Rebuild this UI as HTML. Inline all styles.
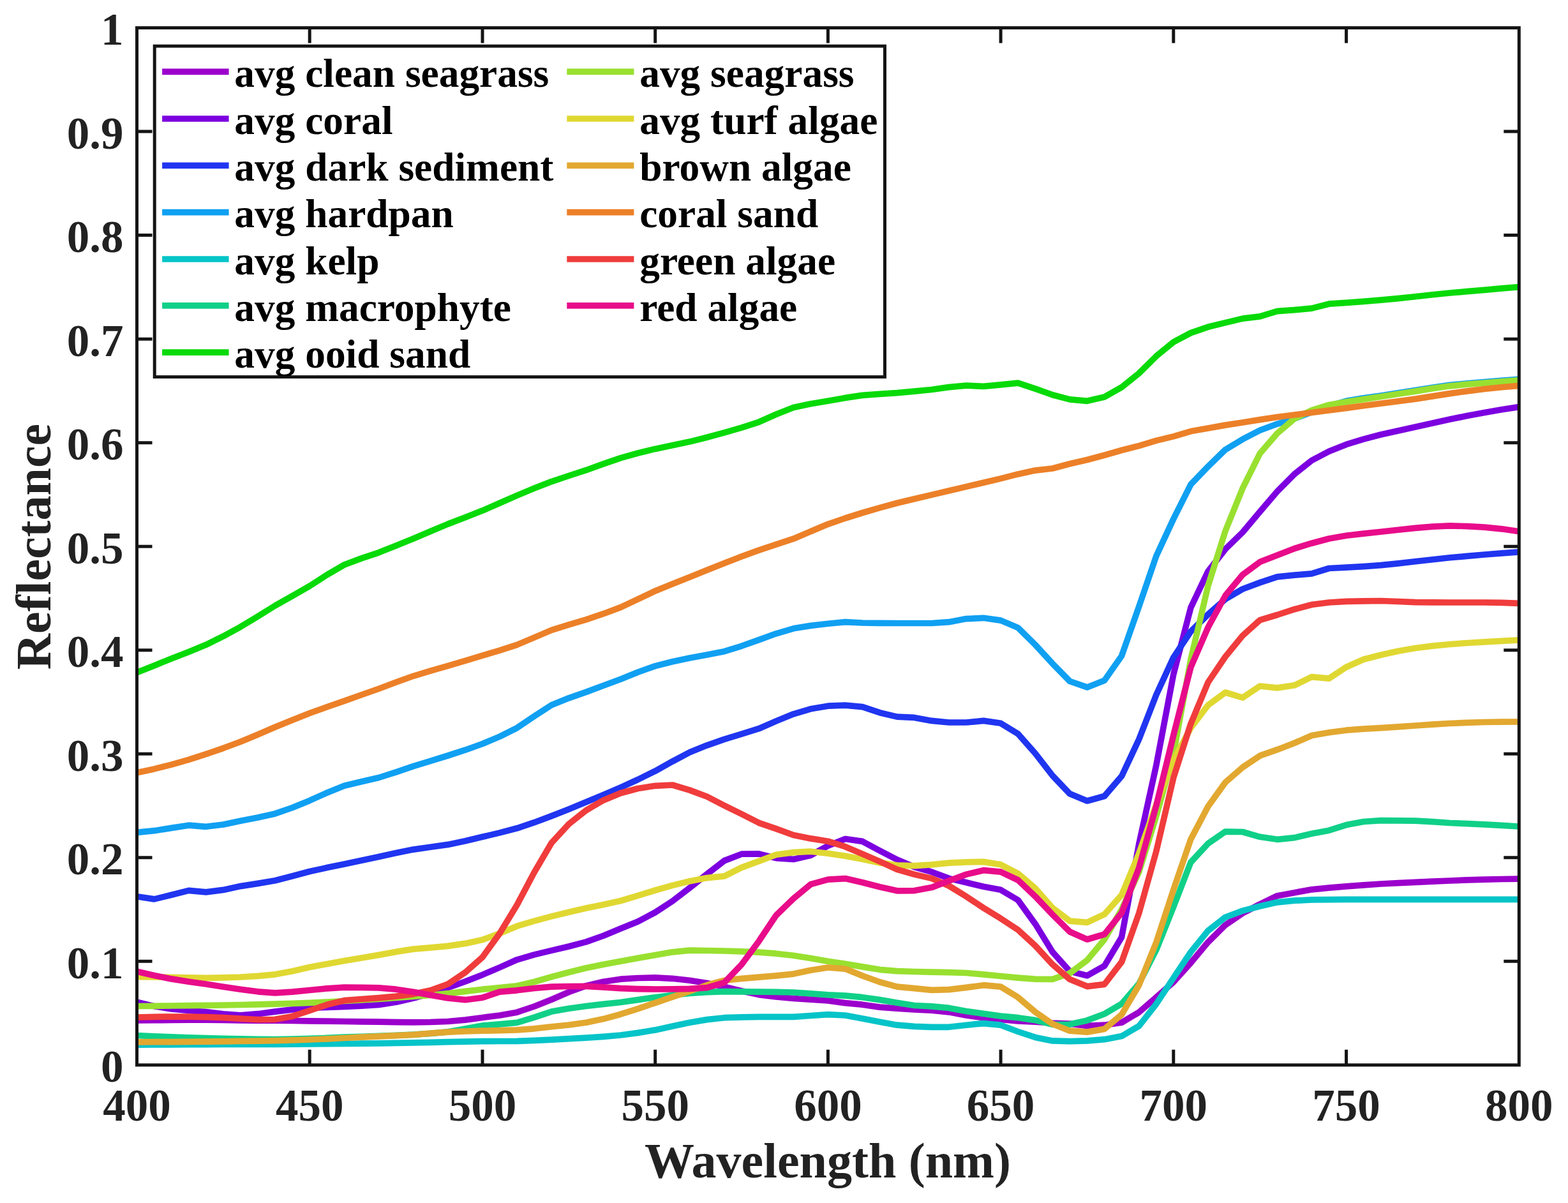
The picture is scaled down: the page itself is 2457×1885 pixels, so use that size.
<!DOCTYPE html>
<html><head><meta charset="utf-8"><title>Reflectance spectra</title>
<style>html,body{margin:0;padding:0;background:#fff;}svg{display:block;}</style>
</head><body>
<svg width="2457" height="1885" viewBox="0 0 2457 1885">
<rect x="0" y="0" width="2457" height="1885" fill="#ffffff"/>
<g fill="none" stroke-width="9.70" stroke-linejoin="round" stroke-linecap="butt">
<polyline stroke="#9b00cc" points="214.5,1598.9 241.6,1598.7 268.6,1598.4 295.7,1598.2 322.8,1598.1 349.9,1598.5 376.9,1598.9 404.0,1599.1 431.1,1599.2 458.2,1599.5 485.2,1599.9 512.3,1600.2 539.4,1600.5 566.4,1600.9 593.5,1601.2 620.6,1601.6 647.7,1601.8 674.7,1601.5 701.8,1600.5 728.9,1598.1 756.0,1594.5 783.0,1591.0 810.1,1586.2 837.2,1577.0 864.2,1566.2 891.3,1554.5 918.4,1544.6 945.5,1538.2 972.5,1534.2 999.6,1532.5 1026.7,1531.8 1053.7,1533.3 1080.8,1536.3 1107.9,1540.6 1135.0,1546.1 1162.0,1552.7 1189.1,1558.6 1216.2,1562.0 1243.3,1564.5 1270.3,1566.2 1297.4,1568.0 1324.5,1571.6 1351.5,1574.2 1378.6,1578.1 1405.7,1580.2 1432.8,1582.0 1459.8,1583.2 1486.9,1585.8 1514.0,1591.0 1541.1,1594.7 1568.1,1597.3 1595.2,1599.9 1622.3,1601.2 1649.3,1603.0 1676.4,1604.1 1703.5,1607.4 1730.6,1606.2 1757.6,1602.2 1784.7,1586.2 1811.8,1562.7 1838.8,1538.8 1865.9,1508.7 1893.0,1476.2 1920.1,1449.4 1947.1,1431.0 1974.2,1416.9 2001.3,1403.7 2028.4,1398.7 2055.4,1393.8 2082.5,1391.2 2109.6,1388.8 2136.6,1386.8 2163.7,1385.0 2190.8,1383.7 2217.9,1382.4 2244.9,1381.2 2272.0,1380.0 2299.1,1378.9 2326.2,1378.1 2353.2,1377.5 2380.3,1377.1"/>
<polyline stroke="#7c00e0" points="214.5,1570.3 241.6,1576.6 268.6,1581.0 295.7,1583.5 322.8,1585.6 349.9,1588.8 376.9,1590.8 404.0,1588.7 431.1,1585.1 458.2,1581.9 485.2,1579.4 512.3,1578.4 539.4,1577.5 566.4,1576.2 593.5,1574.4 620.6,1570.2 647.7,1564.0 674.7,1556.5 701.8,1547.7 728.9,1538.0 756.0,1527.4 783.0,1515.9 810.1,1503.8 837.2,1495.9 864.2,1489.4 891.3,1483.0 918.4,1475.9 945.5,1466.3 972.5,1455.1 999.6,1444.0 1026.7,1429.6 1053.7,1412.0 1080.8,1391.2 1107.9,1369.6 1135.0,1348.6 1162.0,1338.2 1189.1,1337.9 1216.2,1344.6 1243.3,1346.4 1270.3,1340.2 1297.4,1325.2 1324.5,1314.5 1351.5,1318.4 1378.6,1333.0 1405.7,1347.0 1432.8,1358.5 1459.8,1366.2 1486.9,1376.4 1514.0,1382.8 1541.1,1389.3 1568.1,1394.3 1595.2,1410.4 1622.3,1447.8 1649.3,1491.7 1676.4,1522.0 1703.5,1528.7 1730.6,1513.6 1757.6,1468.4 1784.7,1322.6 1811.8,1199.1 1838.8,1056.7 1865.9,952.1 1893.0,895.2 1920.1,860.4 1947.1,834.1 1974.2,801.8 2001.3,770.1 2028.4,742.9 2055.4,721.5 2082.5,707.2 2109.6,696.4 2136.6,688.1 2163.7,681.0 2190.8,674.9 2217.9,669.1 2244.9,663.1 2272.0,657.1 2299.1,651.5 2326.2,646.4 2353.2,641.8 2380.3,637.6"/>
<polyline stroke="#2035f0" points="214.5,1404.7 241.6,1408.9 268.6,1402.3 295.7,1395.4 322.8,1397.9 349.9,1394.4 376.9,1388.6 404.0,1384.4 431.1,1379.7 458.2,1372.8 485.2,1365.5 512.3,1359.6 539.4,1354.0 566.4,1348.3 593.5,1342.6 620.6,1336.6 647.7,1331.1 674.7,1327.3 701.8,1323.4 728.9,1317.8 756.0,1311.3 783.0,1304.9 810.1,1297.8 837.2,1288.7 864.2,1278.6 891.3,1267.9 918.4,1256.8 945.5,1245.6 972.5,1233.9 999.6,1221.5 1026.7,1208.2 1053.7,1193.1 1080.8,1178.8 1107.9,1167.8 1135.0,1158.3 1162.0,1150.2 1189.1,1141.7 1216.2,1129.9 1243.3,1118.8 1270.3,1110.8 1297.4,1106.2 1324.5,1105.2 1351.5,1107.6 1378.6,1116.7 1405.7,1123.1 1432.8,1124.4 1459.8,1129.4 1486.9,1132.0 1514.0,1132.0 1541.1,1129.4 1568.1,1133.3 1595.2,1149.9 1622.3,1180.6 1649.3,1215.4 1676.4,1243.8 1703.5,1255.0 1730.6,1247.5 1757.6,1216.2 1784.7,1158.5 1811.8,1088.8 1838.8,1030.1 1865.9,989.5 1893.0,962.7 1920.1,938.8 1947.1,923.0 1974.2,912.9 2001.3,903.8 2028.4,901.2 2055.4,898.8 2082.5,890.5 2109.6,889.2 2136.6,887.6 2163.7,885.6 2190.8,882.9 2217.9,879.8 2244.9,876.7 2272.0,873.8 2299.1,871.3 2326.2,869.0 2353.2,866.9 2380.3,864.8"/>
<polyline stroke="#10a0f2" points="214.5,1304.3 241.6,1301.7 268.6,1297.4 295.7,1293.2 322.8,1295.3 349.9,1292.0 376.9,1286.2 404.0,1281.1 431.1,1274.9 458.2,1265.5 485.2,1254.4 512.3,1242.2 539.4,1231.3 566.4,1224.7 593.5,1218.5 620.6,1209.8 647.7,1200.6 674.7,1192.3 701.8,1184.0 728.9,1175.2 756.0,1165.5 783.0,1154.1 810.1,1140.6 837.2,1122.2 864.2,1104.7 891.3,1093.8 918.4,1084.4 945.5,1074.3 972.5,1064.2 999.6,1053.3 1026.7,1043.6 1053.7,1036.7 1080.8,1030.9 1107.9,1026.0 1135.0,1020.7 1162.0,1012.3 1189.1,1002.6 1216.2,992.8 1243.3,984.8 1270.3,980.4 1297.4,977.3 1324.5,974.7 1351.5,976.0 1378.6,976.3 1405.7,976.5 1432.8,976.5 1459.8,976.5 1486.9,974.7 1514.0,969.6 1541.1,968.3 1568.1,972.1 1595.2,983.6 1622.3,1010.4 1649.3,1039.8 1676.4,1067.5 1703.5,1076.9 1730.6,1066.2 1757.6,1027.7 1784.7,950.5 1811.8,871.3 1838.8,813.1 1865.9,759.2 1893.0,730.9 1920.1,704.6 1947.1,688.3 1974.2,674.2 2001.3,664.3 2028.4,656.0 2055.4,645.7 2082.5,636.1 2109.6,628.3 2136.6,623.8 2163.7,620.1 2190.8,615.8 2217.9,611.6 2244.9,607.2 2272.0,603.3 2299.1,600.8 2326.2,598.6 2353.2,596.4 2380.3,594.4"/>
<polyline stroke="#05c4c8" points="214.5,1637.1 241.6,1637.0 268.6,1636.8 295.7,1636.7 322.8,1636.6 349.9,1636.5 376.9,1636.5 404.0,1636.4 431.1,1636.3 458.2,1636.2 485.2,1636.0 512.3,1635.7 539.4,1635.5 566.4,1635.2 593.5,1634.8 620.6,1634.3 647.7,1633.9 674.7,1633.3 701.8,1632.7 728.9,1632.2 756.0,1631.7 783.0,1631.5 810.1,1631.3 837.2,1630.4 864.2,1629.1 891.3,1627.7 918.4,1626.1 945.5,1624.3 972.5,1622.0 999.6,1618.4 1026.7,1613.9 1053.7,1608.1 1080.8,1602.3 1107.9,1597.6 1135.0,1594.7 1162.0,1593.8 1189.1,1593.4 1216.2,1593.4 1243.3,1593.4 1270.3,1591.5 1297.4,1589.7 1324.5,1591.0 1351.5,1596.0 1378.6,1601.2 1405.7,1606.2 1432.8,1608.3 1459.8,1609.3 1486.9,1609.3 1514.0,1606.2 1541.1,1603.6 1568.1,1606.2 1595.2,1616.5 1622.3,1625.4 1649.3,1630.9 1676.4,1631.7 1703.5,1630.9 1730.6,1628.7 1757.6,1623.6 1784.7,1607.7 1811.8,1573.2 1838.8,1532.3 1865.9,1491.7 1893.0,1458.3 1920.1,1437.2 1947.1,1427.1 1974.2,1420.0 2001.3,1413.8 2028.4,1411.2 2055.4,1409.9 2082.5,1409.6 2109.6,1409.4 2136.6,1409.4 2163.7,1409.4 2190.8,1409.4 2217.9,1409.4 2244.9,1409.4 2272.0,1409.4 2299.1,1409.4 2326.2,1409.4 2353.2,1409.4 2380.3,1409.4"/>
<polyline stroke="#10d088" points="214.5,1622.5 241.6,1623.8 268.6,1624.9 295.7,1625.8 322.8,1626.5 349.9,1627.3 376.9,1627.8 404.0,1628.3 431.1,1628.5 458.2,1628.1 485.2,1627.4 512.3,1626.4 539.4,1625.2 566.4,1624.3 593.5,1623.3 620.6,1622.3 647.7,1621.2 674.7,1619.4 701.8,1616.8 728.9,1612.0 756.0,1607.0 783.0,1604.8 810.1,1602.3 837.2,1594.2 864.2,1585.1 891.3,1580.2 918.4,1576.5 945.5,1573.4 972.5,1570.5 999.6,1566.6 1026.7,1562.7 1053.7,1559.2 1080.8,1556.5 1107.9,1554.6 1135.0,1553.7 1162.0,1553.8 1189.1,1554.1 1216.2,1554.4 1243.3,1555.0 1270.3,1556.8 1297.4,1558.9 1324.5,1560.2 1351.5,1562.7 1378.6,1566.6 1405.7,1571.3 1432.8,1575.5 1459.8,1576.8 1486.9,1579.4 1514.0,1584.5 1541.1,1588.4 1568.1,1592.1 1595.2,1594.7 1622.3,1598.6 1649.3,1605.4 1676.4,1605.1 1703.5,1598.9 1730.6,1588.7 1757.6,1572.9 1784.7,1541.4 1811.8,1488.4 1838.8,1421.0 1865.9,1351.1 1893.0,1321.8 1920.1,1303.1 1947.1,1303.5 1974.2,1311.3 2001.3,1315.3 2028.4,1312.6 2055.4,1306.2 2082.5,1301.2 2109.6,1292.6 2136.6,1287.5 2163.7,1285.6 2190.8,1285.8 2217.9,1286.2 2244.9,1287.6 2272.0,1289.5 2299.1,1290.7 2326.2,1291.9 2353.2,1293.4 2380.3,1295.0"/>
<polyline stroke="#08da08" points="214.5,1053.8 241.6,1042.9 268.6,1032.0 295.7,1021.5 322.8,1010.3 349.9,996.9 376.9,982.2 404.0,965.8 431.1,949.0 458.2,933.7 485.2,918.3 512.3,900.7 539.4,885.0 566.4,874.9 593.5,865.8 620.6,855.1 647.7,844.0 674.7,832.5 701.8,821.1 728.9,810.7 756.0,800.1 783.0,788.3 810.1,776.4 837.2,765.1 864.2,754.6 891.3,745.5 918.4,736.7 945.5,726.9 972.5,717.6 999.6,710.0 1026.7,703.4 1053.7,697.7 1080.8,692.1 1107.9,685.3 1135.0,677.9 1162.0,670.1 1189.1,661.3 1216.2,649.2 1243.3,638.4 1270.3,632.8 1297.4,628.3 1324.5,623.4 1351.5,619.4 1378.6,617.4 1405.7,615.7 1432.8,613.2 1459.8,610.5 1486.9,606.6 1514.0,604.1 1541.1,605.4 1568.1,602.8 1595.2,600.2 1622.3,609.2 1649.3,618.8 1676.4,625.9 1703.5,628.3 1730.6,622.0 1757.6,606.7 1784.7,585.0 1811.8,558.1 1838.8,536.0 1865.9,521.6 1893.0,512.3 1920.1,505.6 1947.1,499.1 1974.2,495.9 2001.3,487.6 2028.4,485.7 2055.4,483.1 2082.5,476.2 2109.6,474.3 2136.6,472.3 2163.7,470.2 2190.8,467.6 2217.9,464.7 2244.9,461.8 2272.0,459.0 2299.1,456.6 2326.2,454.3 2353.2,451.9 2380.3,449.6"/>
<polyline stroke="#99e030" points="214.5,1576.5 241.6,1576.3 268.6,1576.0 295.7,1575.7 322.8,1575.4 349.9,1575.0 376.9,1574.5 404.0,1573.9 431.1,1573.1 458.2,1572.3 485.2,1571.3 512.3,1570.0 539.4,1568.5 566.4,1567.0 593.5,1565.3 620.6,1563.5 647.7,1561.5 674.7,1559.3 701.8,1556.7 728.9,1553.4 756.0,1550.2 783.0,1547.7 810.1,1544.8 837.2,1538.5 864.2,1530.7 891.3,1523.5 918.4,1516.8 945.5,1511.3 972.5,1506.3 999.6,1501.2 1026.7,1496.5 1053.7,1491.8 1080.8,1489.2 1107.9,1489.5 1135.0,1490.0 1162.0,1490.9 1189.1,1492.1 1216.2,1494.2 1243.3,1497.2 1270.3,1501.5 1297.4,1506.3 1324.5,1510.3 1351.5,1514.9 1378.6,1519.3 1405.7,1521.6 1432.8,1522.5 1459.8,1523.2 1486.9,1523.7 1514.0,1524.5 1541.1,1526.9 1568.1,1529.5 1595.2,1532.1 1622.3,1534.1 1649.3,1534.4 1676.4,1525.0 1703.5,1504.7 1730.6,1472.2 1757.6,1425.0 1784.7,1366.4 1811.8,1278.8 1838.8,1181.2 1865.9,1033.3 1893.0,918.0 1920.1,832.0 1947.1,765.2 1974.2,710.6 2001.3,679.1 2028.4,656.0 2055.4,642.8 2082.5,634.5 2109.6,629.8 2136.6,625.6 2163.7,621.5 2190.8,617.3 2217.9,613.1 2244.9,608.6 2272.0,604.8 2299.1,602.2 2326.2,600.1 2353.2,597.9 2380.3,595.8"/>
<polyline stroke="#e0d832" points="214.5,1530.7 241.6,1530.9 268.6,1531.3 295.7,1531.9 322.8,1532.3 349.9,1531.9 376.9,1531.0 404.0,1529.4 431.1,1526.8 458.2,1521.7 485.2,1515.5 512.3,1510.5 539.4,1505.6 566.4,1501.0 593.5,1496.4 620.6,1491.4 647.7,1487.1 674.7,1484.8 701.8,1482.4 728.9,1478.4 756.0,1472.6 783.0,1462.5 810.1,1451.2 837.2,1443.1 864.2,1435.9 891.3,1429.3 918.4,1423.1 945.5,1417.5 972.5,1411.5 999.6,1403.4 1026.7,1395.0 1053.7,1387.4 1080.8,1380.8 1107.9,1375.6 1135.0,1372.9 1162.0,1359.4 1189.1,1349.4 1216.2,1339.2 1243.3,1335.6 1270.3,1334.2 1297.4,1337.3 1324.5,1341.2 1351.5,1346.2 1378.6,1351.9 1405.7,1355.8 1432.8,1356.6 1459.8,1354.8 1486.9,1352.2 1514.0,1350.9 1541.1,1350.4 1568.1,1354.8 1595.2,1368.8 1622.3,1391.9 1649.3,1422.6 1676.4,1443.1 1703.5,1445.3 1730.6,1432.7 1757.6,1402.3 1784.7,1337.3 1811.8,1260.7 1838.8,1191.0 1865.9,1140.6 1893.0,1104.9 1920.1,1085.0 1947.1,1093.2 1974.2,1075.0 2001.3,1077.9 2028.4,1073.8 2055.4,1060.7 2082.5,1063.1 2109.6,1045.2 2136.6,1033.3 2163.7,1026.2 2190.8,1020.2 2217.9,1015.5 2244.9,1012.1 2272.0,1009.5 2299.1,1007.5 2326.2,1005.9 2353.2,1004.3 2380.3,1002.8"/>
<polyline stroke="#e2a830" points="214.5,1632.9 241.6,1632.7 268.6,1632.6 295.7,1632.3 322.8,1632.1 349.9,1631.8 376.9,1631.4 404.0,1631.1 431.1,1630.6 458.2,1629.9 485.2,1629.0 512.3,1627.8 539.4,1626.5 566.4,1625.2 593.5,1623.8 620.6,1622.6 647.7,1621.3 674.7,1619.2 701.8,1617.1 728.9,1616.0 756.0,1615.2 783.0,1614.6 810.1,1613.9 837.2,1611.8 864.2,1608.8 891.3,1606.0 918.4,1602.3 945.5,1596.6 972.5,1589.2 999.6,1580.6 1026.7,1571.3 1053.7,1562.1 1080.8,1553.1 1107.9,1543.5 1135.0,1536.3 1162.0,1533.4 1189.1,1531.1 1216.2,1528.9 1243.3,1526.1 1270.3,1520.3 1297.4,1516.0 1324.5,1518.1 1351.5,1529.0 1378.6,1538.8 1405.7,1546.1 1432.8,1548.7 1459.8,1551.3 1486.9,1550.6 1514.0,1547.4 1541.1,1543.7 1568.1,1546.1 1595.2,1562.7 1622.3,1585.8 1649.3,1604.6 1676.4,1615.2 1703.5,1617.1 1730.6,1612.4 1757.6,1589.7 1784.7,1543.7 1811.8,1476.5 1838.8,1394.1 1865.9,1315.0 1893.0,1263.6 1920.1,1225.8 1947.1,1202.4 1974.2,1184.2 2001.3,1174.7 2028.4,1164.3 2055.4,1152.5 2082.5,1147.8 2109.6,1144.2 2136.6,1142.2 2163.7,1140.6 2190.8,1138.8 2217.9,1137.0 2244.9,1135.1 2272.0,1133.5 2299.1,1132.3 2326.2,1131.5 2353.2,1131.2 2380.3,1131.0"/>
<polyline stroke="#ec8028" points="214.5,1210.8 241.6,1204.9 268.6,1198.1 295.7,1190.3 322.8,1181.6 349.9,1172.3 376.9,1162.2 404.0,1150.9 431.1,1139.3 458.2,1128.2 485.2,1117.5 512.3,1107.8 539.4,1098.4 566.4,1088.8 593.5,1079.2 620.6,1069.0 647.7,1059.3 674.7,1051.1 701.8,1043.3 728.9,1035.3 756.0,1027.2 783.0,1019.2 810.1,1010.4 837.2,998.9 864.2,987.4 891.3,978.9 918.4,970.8 945.5,961.7 972.5,951.6 999.6,938.9 1026.7,925.9 1053.7,914.9 1080.8,904.3 1107.9,893.3 1135.0,882.5 1162.0,872.0 1189.1,862.1 1216.2,853.2 1243.3,844.2 1270.3,832.7 1297.4,821.3 1324.5,812.0 1351.5,803.5 1378.6,795.6 1405.7,788.3 1432.8,781.7 1459.8,775.4 1486.9,769.0 1514.0,762.6 1541.1,756.3 1568.1,749.9 1595.2,742.9 1622.3,737.1 1649.3,734.0 1676.4,726.8 1703.5,720.5 1730.6,713.2 1757.6,705.5 1784.7,698.6 1811.8,690.4 1838.8,683.9 1865.9,675.8 1893.0,670.9 1920.1,666.1 1947.1,662.0 1974.2,657.6 2001.3,653.5 2028.4,650.0 2055.4,646.5 2082.5,643.0 2109.6,639.4 2136.6,635.8 2163.7,632.2 2190.8,628.7 2217.9,625.1 2244.9,620.9 2272.0,616.6 2299.1,612.9 2326.2,609.5 2353.2,606.7 2380.3,604.3"/>
<polyline stroke="#f03c3c" points="214.5,1594.0 241.6,1593.3 268.6,1593.1 295.7,1593.2 322.8,1593.6 349.9,1594.6 376.9,1596.2 404.0,1597.6 431.1,1597.3 458.2,1592.4 485.2,1583.5 512.3,1574.3 539.4,1567.7 566.4,1565.5 593.5,1563.6 620.6,1561.1 647.7,1557.6 674.7,1551.8 701.8,1542.0 728.9,1523.8 756.0,1499.8 783.0,1462.6 810.1,1418.0 837.2,1366.7 864.2,1320.8 891.3,1291.3 918.4,1269.7 945.5,1253.9 972.5,1242.8 999.6,1235.5 1026.7,1231.3 1053.7,1230.0 1080.8,1238.1 1107.9,1248.2 1135.0,1262.2 1162.0,1275.5 1189.1,1289.3 1216.2,1298.7 1243.3,1308.5 1270.3,1313.9 1297.4,1318.2 1324.5,1326.7 1351.5,1338.1 1378.6,1349.9 1405.7,1362.3 1432.8,1370.1 1459.8,1376.4 1486.9,1388.0 1514.0,1404.7 1541.1,1422.6 1568.1,1439.2 1595.2,1457.0 1622.3,1481.9 1649.3,1511.2 1676.4,1534.6 1703.5,1545.6 1730.6,1542.4 1757.6,1507.3 1784.7,1431.0 1811.8,1334.0 1838.8,1218.6 1865.9,1134.1 1893.0,1069.1 1920.1,1029.0 1947.1,996.0 1974.2,971.6 2001.3,963.5 2028.4,954.7 2055.4,947.5 2082.5,944.0 2109.6,942.3 2136.6,941.8 2163.7,941.5 2190.8,942.5 2217.9,943.6 2244.9,943.9 2272.0,944.0 2299.1,944.0 2326.2,944.0 2353.2,944.4 2380.3,945.3"/>
<polyline stroke="#e80c8a" points="214.5,1522.2 241.6,1528.5 268.6,1533.9 295.7,1538.2 322.8,1542.0 349.9,1546.3 376.9,1550.2 404.0,1553.8 431.1,1555.8 458.2,1554.2 485.2,1551.5 512.3,1548.8 539.4,1547.2 566.4,1547.4 593.5,1547.9 620.6,1550.2 647.7,1554.2 674.7,1559.2 701.8,1564.0 728.9,1566.7 756.0,1563.2 783.0,1554.2 810.1,1551.8 837.2,1548.5 864.2,1546.1 891.3,1545.5 918.4,1545.3 945.5,1546.8 972.5,1548.7 999.6,1549.6 1026.7,1550.0 1053.7,1549.8 1080.8,1549.3 1107.9,1547.7 1135.0,1539.6 1162.0,1511.3 1189.1,1474.8 1216.2,1434.3 1243.3,1408.0 1270.3,1385.7 1297.4,1378.2 1324.5,1376.6 1351.5,1382.8 1378.6,1389.8 1405.7,1395.8 1432.8,1395.6 1459.8,1390.6 1486.9,1380.3 1514.0,1370.1 1541.1,1363.7 1568.1,1366.2 1595.2,1379.0 1622.3,1404.7 1649.3,1433.1 1676.4,1460.0 1703.5,1472.0 1730.6,1464.0 1757.6,1430.2 1784.7,1360.0 1811.8,1262.5 1838.8,1152.0 1865.9,1045.5 1893.0,983.0 1920.1,933.2 1947.1,900.7 1974.2,880.6 2001.3,870.0 2028.4,859.5 2055.4,851.2 2082.5,844.0 2109.6,839.3 2136.6,836.1 2163.7,833.3 2190.8,830.2 2217.9,827.4 2244.9,825.1 2272.0,823.9 2299.1,824.6 2326.2,826.1 2353.2,828.8 2380.3,832.8"/>
</g>
<path d="M485.2,1668.8V1644.8M485.2,43.6V67.6M756.0,1668.8V1644.8M756.0,43.6V67.6M1026.7,1668.8V1644.8M1026.7,43.6V67.6M1297.4,1668.8V1644.8M1297.4,43.6V67.6M1568.1,1668.8V1644.8M1568.1,43.6V67.6M1838.8,1668.8V1644.8M1838.8,43.6V67.6M2109.6,1668.8V1644.8M2109.6,43.6V67.6M214.5,1506.3H238.5M2380.3,1506.3H2356.3M214.5,1343.8H238.5M2380.3,1343.8H2356.3M214.5,1181.2H238.5M2380.3,1181.2H2356.3M214.5,1018.7H238.5M2380.3,1018.7H2356.3M214.5,856.2H238.5M2380.3,856.2H2356.3M214.5,693.7H238.5M2380.3,693.7H2356.3M214.5,531.2H238.5M2380.3,531.2H2356.3M214.5,368.6H238.5M2380.3,368.6H2356.3M214.5,206.1H238.5M2380.3,206.1H2356.3" stroke="#141414" stroke-width="5.0" fill="none"/>
<rect x="214.5" y="43.6" width="2165.8" height="1625.2" fill="none" stroke="#141414" stroke-width="5.0" stroke-linejoin="miter"/>
<g font-family="'Liberation Serif', 'Times New Roman', serif" font-weight="bold" font-size="71" fill="#222222">
<text x="214.5" y="1756" text-anchor="middle">400</text>
<text x="485.2" y="1756" text-anchor="middle">450</text>
<text x="756.0" y="1756" text-anchor="middle">500</text>
<text x="1026.7" y="1756" text-anchor="middle">550</text>
<text x="1297.4" y="1756" text-anchor="middle">600</text>
<text x="1568.1" y="1756" text-anchor="middle">650</text>
<text x="1838.8" y="1756" text-anchor="middle">700</text>
<text x="2109.6" y="1756" text-anchor="middle">750</text>
<text x="2380.3" y="1756" text-anchor="middle">800</text>
<text x="193.5" y="1695.3" text-anchor="end">0</text>
<text x="193.5" y="1532.8" text-anchor="end">0.1</text>
<text x="193.5" y="1370.3" text-anchor="end">0.2</text>
<text x="193.5" y="1207.7" text-anchor="end">0.3</text>
<text x="193.5" y="1045.2" text-anchor="end">0.4</text>
<text x="193.5" y="882.7" text-anchor="end">0.5</text>
<text x="193.5" y="720.2" text-anchor="end">0.6</text>
<text x="193.5" y="557.7" text-anchor="end">0.7</text>
<text x="193.5" y="395.1" text-anchor="end">0.8</text>
<text x="193.5" y="232.6" text-anchor="end">0.9</text>
<text x="193.5" y="70.1" text-anchor="end">1</text>
</g>
<text x="1297" y="1845" text-anchor="middle" font-family="'Liberation Serif', 'Times New Roman', serif" font-weight="bold" font-size="78" fill="#222222">Wavelength (nm)</text>
<text transform="translate(78.6,856.5) rotate(-90)" x="0" y="0" text-anchor="middle" font-family="'Liberation Serif', 'Times New Roman', serif" font-weight="bold" font-size="78" fill="#222222">Reflectance</text>
<rect x="242.2" y="72.2" width="1144.3" height="518.4" fill="#ffffff" stroke="#141414" stroke-width="5.0"/>
<g font-family="'Liberation Serif', 'Times New Roman', serif" font-weight="bold" font-size="63.4" fill="#000000">
<line x1="254.1" y1="112.4" x2="358.6" y2="112.4" stroke="#9b00cc" stroke-width="9.7"/>
<text x="367.3" y="136.0">avg clean seagrass</text>
<line x1="254.1" y1="186.0" x2="358.6" y2="186.0" stroke="#7c00e0" stroke-width="9.7"/>
<text x="367.3" y="209.6">avg coral</text>
<line x1="254.1" y1="259.4" x2="358.6" y2="259.4" stroke="#2035f0" stroke-width="9.7"/>
<text x="367.3" y="283.0">avg dark sediment</text>
<line x1="254.1" y1="332.7" x2="358.6" y2="332.7" stroke="#10a0f2" stroke-width="9.7"/>
<text x="367.3" y="356.3">avg hardpan</text>
<line x1="254.1" y1="406.0" x2="358.6" y2="406.0" stroke="#05c4c8" stroke-width="9.7"/>
<text x="367.3" y="429.6">avg kelp</text>
<line x1="254.1" y1="478.9" x2="358.6" y2="478.9" stroke="#10d088" stroke-width="9.7"/>
<text x="367.3" y="502.5">avg macrophyte</text>
<line x1="254.1" y1="552.2" x2="358.6" y2="552.2" stroke="#08da08" stroke-width="9.7"/>
<text x="367.3" y="575.8">avg ooid sand</text>
<line x1="888.3" y1="112.4" x2="993.4" y2="112.4" stroke="#99e030" stroke-width="9.7"/>
<text x="1002.2" y="136.0">avg seagrass</text>
<line x1="888.3" y1="186.0" x2="993.4" y2="186.0" stroke="#e0d832" stroke-width="9.7"/>
<text x="1002.2" y="209.6">avg turf algae</text>
<line x1="888.3" y1="259.4" x2="993.4" y2="259.4" stroke="#e2a830" stroke-width="9.7"/>
<text x="1002.2" y="283.0">brown algae</text>
<line x1="888.3" y1="332.7" x2="993.4" y2="332.7" stroke="#ec8028" stroke-width="9.7"/>
<text x="1002.2" y="356.3">coral sand</text>
<line x1="888.3" y1="406.0" x2="993.4" y2="406.0" stroke="#f03c3c" stroke-width="9.7"/>
<text x="1002.2" y="429.6">green algae</text>
<line x1="888.3" y1="478.9" x2="993.4" y2="478.9" stroke="#e80c8a" stroke-width="9.7"/>
<text x="1002.2" y="502.5">red algae</text>
</g>
</svg>
</body></html>
